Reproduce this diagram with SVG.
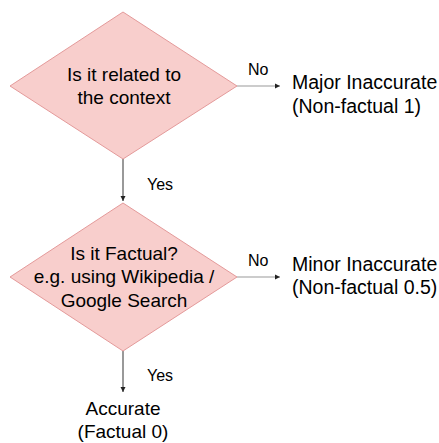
<svg xmlns="http://www.w3.org/2000/svg" width="439" height="443" viewBox="0 0 439 443">
<defs>
<marker id="arr" markerWidth="6" markerHeight="6" refX="5" refY="3" orient="auto" markerUnits="userSpaceOnUse">
<path d="M0,0.5 L5,3 L0,5.5 Z" fill="#222"/>
</marker>
<style>
.dec{fill:#f8cecc;stroke:#e49a9a;stroke-width:1}
.t{font-family:"Liberation Sans",Arial,sans-serif;font-size:19px;fill:#000;text-anchor:middle}
.tl{font-family:"Liberation Sans",Arial,sans-serif;font-size:19.5px;fill:#000}
.lab{font-family:"Liberation Sans",Arial,sans-serif;font-size:16px;fill:#000}
.c{fill:none;stroke-width:1.2}
</style>
</defs>
<rect width="439" height="443" fill="#fff"/>
<g id="connectors">
<path class="c" d="M123,159 V201" stroke="#555" marker-end="url(#arr)"/>
<path class="c" d="M237,86 H280" stroke="#999" marker-end="url(#arr)"/>
<path class="c" d="M237,277 H280" stroke="#999" marker-end="url(#arr)"/>
<path class="c" d="M123,351 V392" stroke="#555" marker-end="url(#arr)"/>
<text class="lab" x="147" y="190">Yes</text>
<text class="lab" x="248" y="75">No</text>
<text class="lab" x="248" y="266">No</text>
<text class="lab" x="147" y="381">Yes</text>
</g>
<g id="q1">
<polygon class="dec" points="123,12 237,86 123,159 10,86"/>
<text class="t" x="124" y="81">Is it related to</text>
<text class="t" x="124" y="104">the context</text>
</g>
<g id="q2">
<polygon class="dec" points="123,203 237,277 123,351 10,277"/>
<text class="t" x="124" y="260">Is it Factual?</text>
<text class="t" x="124" y="283">e.g. using Wikipedia /</text>
<text class="t" x="124" y="307">Google Search</text>
</g>
<g id="major">
<text class="tl" x="292" y="89">Major Inaccurate</text>
<text class="tl" x="292" y="113">(Non-factual 1)</text>
</g>
<g id="minor">
<text class="tl" x="292" y="271">Minor Inaccurate</text>
<text class="tl" x="292" y="294">(Non-factual 0.5)</text>
</g>
<g id="accurate">
<text class="t" x="123" y="415">Accurate</text>
<text class="t" x="123" y="438">(Factual 0)</text>
</g>
</svg>
